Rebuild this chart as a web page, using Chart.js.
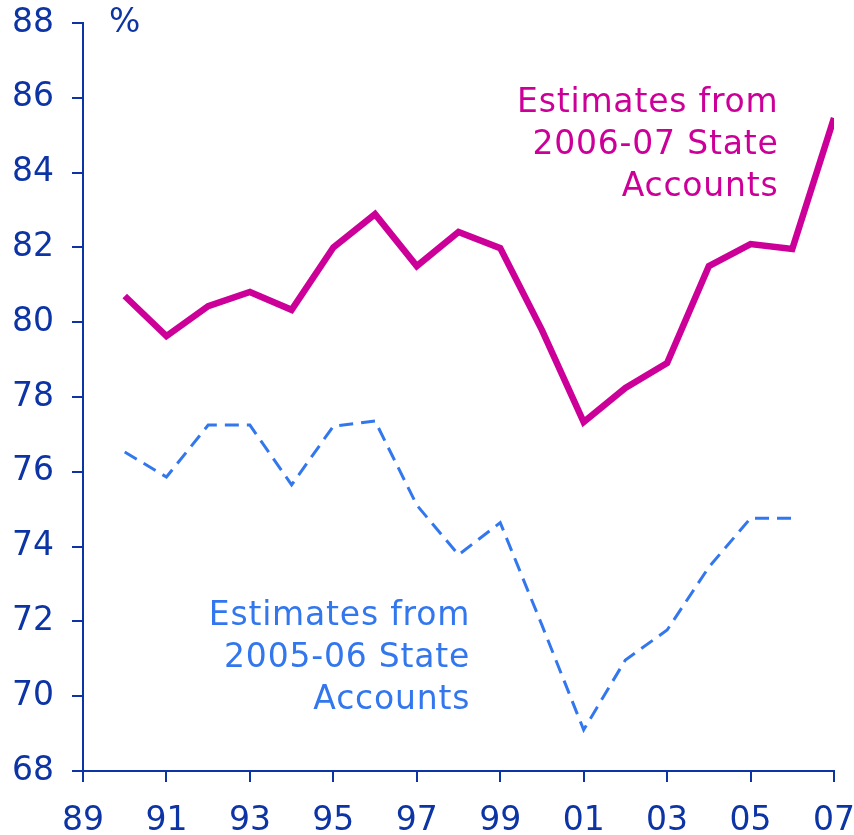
<!DOCTYPE html>
<html>
<head>
<meta charset="utf-8">
<script src="https://cdn.jsdelivr.net/npm/chart.js@4/dist/chart.umd.min.js"></script>
<style>
  html, body { margin: 0; padding: 0; background: #fff; }
  #wrap { width: 854px; height: 835px; }
</style>
</head>
<body>
<div id="wrap"><canvas id="chart" width="854" height="835"></canvas></div>
<script>
// Data
const years = [1990, 1991, 1992, 1993, 1994, 1995, 1996, 1997, 1998, 1999, 2000, 2001, 2002, 2003, 2004, 2005, 2006, 2007];
const est0607 = [80.7, 79.63, 80.43, 80.81, 80.33, 82.0, 82.89, 81.5, 82.41, 81.98, 79.79, 77.33, 78.24, 78.91, 81.5, 82.09, 81.96, 85.46];
const est0506 = [76.53, 75.86, 77.25, 77.25, 75.65, 77.22, 77.36, 75.11, 73.78, 74.64, 71.9, 69.1, 70.97, 71.77, 73.45, 74.76, 74.76, null];
const label0607 = ['Estimates from', '2006-07 State', 'Accounts'];
const label0506 = ['Estimates from', '2005-06 State', 'Accounts'];

const axisColor = '#0d34a5';
const pink = '#cc0099';
const blue = '#3377ee';
const font = '"DejaVu Sans", Verdana, sans-serif';

function points(vals) {
    return years.map((y, i) => ({ x: y, y: vals[i] }));
}

// Texts drawn on the chart (annotations and the % unit)
const notesPlugin = {
    id: 'notes',
    afterDatasetsDraw(chart) {
        const { ctx, scales } = chart;
        const xs = scales.x, ys = scales.y;
        ctx.save();
        ctx.font = '33px ' + font;
        ctx.textBaseline = 'middle';

        ctx.textAlign = 'center';
        ctx.fillStyle = axisColor;
        ctx.fillText('%', xs.getPixelForValue(1990), ys.getPixelForValue(88));

        ctx.letterSpacing = '0.8px';
        ctx.textAlign = 'right';
        ctx.fillStyle = pink;
        let x = xs.getPixelForValue(2005.67), y = ys.getPixelForValue(85.86);
        label0607.forEach((t, i) => ctx.fillText(t, x, y + i * 42));

        ctx.fillStyle = blue;
        x = xs.getPixelForValue(1998.28); y = ys.getPixelForValue(72.14);
        label0506.forEach((t, i) => ctx.fillText(t, x, y + i * 42));
        ctx.restore();
    }
};

new Chart(document.getElementById('chart').getContext('2d'), {
    type: 'line',
    data: {
        datasets: [{
            label: '2006-07',
            data: points(est0607),
            borderColor: pink,
            borderWidth: 6.5,
            pointRadius: 0,
            tension: 0
        }, {
            label: '2005-06',
            data: points(est0506),
            borderColor: blue,
            borderWidth: 3,
            borderDash: [14, 8],
            pointRadius: 0,
            tension: 0,
            spanGaps: false
        }]
    },
    options: {
        responsive: false,
        animation: false,
        layout: { padding: { top: 23, right: 20, left: 0, bottom: 0 } },
        plugins: { legend: { display: false }, tooltip: { enabled: false } },
        scales: {
            x: {
                type: 'linear',
                min: 1989, max: 2007,
                border: { display: true, color: axisColor, width: 2 },
                grid: { drawOnChartArea: false, drawTicks: true, tickLength: 11, color: axisColor, lineWidth: 2 },
                ticks: {
                    stepSize: 2,
                    color: axisColor,
                    font: { family: font, size: 33 },
                    padding: 20,
                    maxRotation: 0,
                    autoSkip: false,
                    callback: v => String(v % 100).padStart(2, '0')
                },
                afterFit: s => { s.height = 64; s.paddingLeft = 0; s.paddingRight = 0; }
            },
            y: {
                min: 68, max: 88,
                border: { display: true, color: axisColor, width: 2 },
                grid: { drawOnChartArea: false, drawTicks: true, tickLength: 11, color: axisColor, lineWidth: 2 },
                ticks: {
                    stepSize: 2,
                    color: axisColor,
                    font: { family: font, size: 33 },
                    padding: 18
                },
                afterFit: s => { s.width = 83; s.paddingTop = 0; s.paddingBottom = 0; }
            }
        }
    },
    plugins: [notesPlugin]
});
</script>
</body>
</html>
